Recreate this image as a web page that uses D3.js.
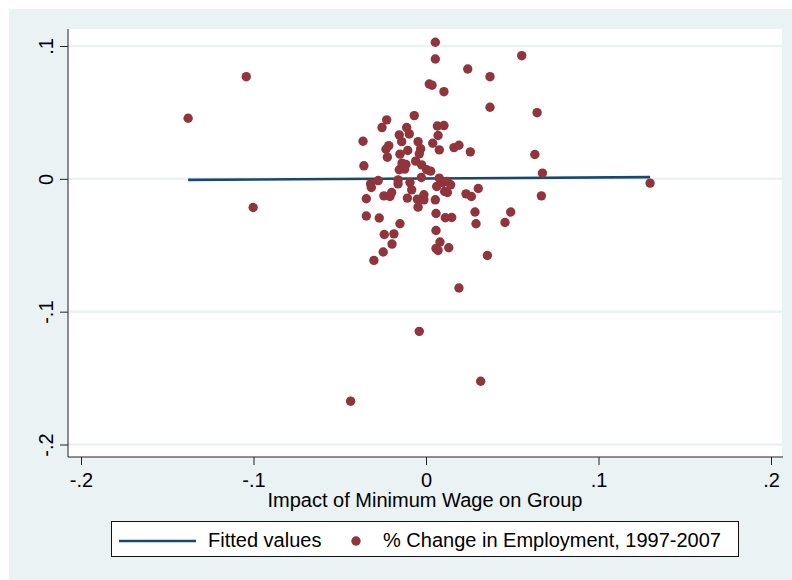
<!DOCTYPE html>
<html lang="en">
<head>
<meta charset="UTF-8">
<title>Minimum wage impact vs employment change</title>
<script src="https://d3js.org/d3.v7.min.js"></script>
<style>
  body { margin: 0; background: #fff; font-family: "Liberation Sans", Arial, sans-serif; }
  svg text { font-family: "Liberation Sans", Arial, sans-serif; fill: #000; }
</style>
</head>
<body>
<div id="chart"></div>
<script>
// tick values and labels
var xTicks = [-0.2, -0.1, 0, 0.1, 0.2];
var xTickLabels = ["-.2", "-.1", "0", ".1", ".2"];
var yTicks = [-0.2, -0.1, 0, 0.1];
var yTickLabels = ["-.2", "-.1", "0", ".1"];

// scatter: impact of minimum wage (x) and % change in employment (y)
var impact = [
  0.0054, 0.0054, 0.0555, 0.0242, 0.0371, 0.0019, 0.0035, 0.0104, 0.0371, 0.0644,
  -0.0068, -0.0228, -0.0255, -0.0112, 0.0066, 0.0104, -0.0155, -0.0097, 0.0070, -0.0365,
  -0.0141, -0.0046, -0.0216, -0.0232, -0.0031, 0.0039, 0.0077, 0.0162, 0.0191, 0.0257,
  -0.0106, -0.0151, -0.0039, -0.0224, 0.0631, -0.0360, -0.0139, -0.0116, -0.0060, -0.0025,
  -0.0155, -0.0124, 0.0004, 0.0027, -0.0027, 0.0675, -0.0277, -0.0162, -0.0162, -0.0093,
  -0.0321, -0.0317, 0.0077, 0.0097, 0.0124, 0.0143, 0.0062, 0.0108, 0.0124, 0.1299,
  -0.0083, 0.0303, -0.0199, -0.0244, -0.0209, -0.0346, -0.0108, -0.0050, -0.0012, -0.0012,
  0.0054, 0.0232, 0.0263, 0.0669, -0.0046, 0.0284, 0.0491, -0.0346, -0.0271, 0.0058,
  0.0112, 0.0149, -0.0151, 0.0290, 0.0458, 0.0058, -0.0242, -0.0186, -0.0197, 0.0081,
  0.0058, 0.0070, 0.0132, -0.0248, -0.0302, 0.0356, 0.0191, -0.1379, -0.1042, -0.1002,
  -0.0039, 0.0317, -0.0437
];
var empChange = [
  0.1028, 0.0902, 0.0927, 0.0827, 0.0769, 0.0714, 0.0705, 0.0656, 0.0539, 0.0498,
  0.0476, 0.0444, 0.0386, 0.0386, 0.0398, 0.0401, 0.0331, 0.0338, 0.0326, 0.0283,
  0.0280, 0.0280, 0.0250, 0.0223, 0.0226, 0.0268, 0.0218, 0.0235, 0.0253, 0.0203,
  0.0213, 0.0186, 0.0188, 0.0163, 0.0183, 0.0098, 0.0118, 0.0108, 0.0133, 0.0105,
  0.0068, 0.0073, 0.0068, 0.0058, 0.0010, 0.0043, -0.0013, -0.0008, -0.0038, -0.0028,
  -0.0038, -0.0065, 0.0005, -0.0028, -0.0020, -0.0045, -0.0058, -0.0095, -0.0103, -0.0032,
  -0.0083, -0.0073, -0.0103, -0.0128, -0.0133, -0.0150, -0.0145, -0.0153, -0.0120, -0.0158,
  -0.0158, -0.0113, -0.0133, -0.0128, -0.0213, -0.0250, -0.0250, -0.0280, -0.0295, -0.0261,
  -0.0293, -0.0291, -0.0338, -0.0338, -0.0329, -0.0389, -0.0419, -0.0414, -0.0491, -0.0476,
  -0.0524, -0.0539, -0.0519, -0.0551, -0.0614, -0.0577, -0.0822, 0.0456, 0.0769, -0.0216,
  -0.1148, -0.1524, -0.1674
];

// fitted values line (end points)
var fitX = [-0.1379, 0.1299];
var fitY = [-0.0008, 0.0013];

var legendLabels = ["Fitted values", "% Change in Employment, 1997-2007"];
var xTitle = "Impact of Minimum Wage on Group";

var W = 792, H = 580;
var bgColor = "#eaf2f3", lineColor = "#1a476f", dotColor = "#90353b";
var plotL = 68, plotR = 782, plotT = 29, plotB = 457;

var svg = d3.select("#chart").append("svg")
    .attr("width", W)
    .attr("height", H);

// outer background and plot region
svg.append("rect").attr("x", 9).attr("y", 9).attr("width", W - 9).attr("height", H - 9).attr("fill", bgColor);
svg.append("rect").attr("x", plotL).attr("y", plotT).attr("width", plotR - plotL).attr("height", plotB - plotT).attr("fill", "#fff");

var x = d3.scaleLinear().domain([-0.2, 0.2]).range([81, 771]);
var y = d3.scaleLinear().domain([-0.2, 0.1]).range([444.5, 46]);

// horizontal gridlines
svg.append("g").selectAll("line")
    .data(yTicks)
    .enter().append("line")
    .attr("x1", plotL).attr("x2", plotR)
    .attr("y1", d => y(d)).attr("y2", d => y(d))
    .attr("stroke", bgColor)
    .attr("stroke-width", 2.5);

// x axis
var xAxis = d3.axisBottom(x)
    .tickValues(xTicks)
    .tickSize(8)
    .tickPadding(6)
    .tickFormat((d, i) => xTickLabels[i]);
var gx = svg.append("g").attr("transform", "translate(0," + plotB + ")").call(xAxis);
gx.select(".domain").remove();
gx.selectAll(".tick line").attr("stroke", "#222");
gx.selectAll(".tick text").attr("font-size", 20).attr("dy", null).attr("y", 30);
svg.append("line").attr("x1", plotL).attr("x2", plotR + 1).attr("y1", plotB).attr("y2", plotB).attr("stroke", "#222");

// y axis (rotated labels)
var yAxis = d3.axisLeft(y)
    .tickValues(yTicks)
    .tickSize(8)
    .tickFormat((d, i) => yTickLabels[i]);
var gy = svg.append("g").attr("transform", "translate(" + plotL + ",0)").call(yAxis);
gy.select(".domain").remove();
gy.selectAll(".tick line").attr("stroke", "#222");
gy.selectAll(".tick text")
    .attr("font-size", 20)
    .attr("x", null).attr("dy", null)
    .attr("text-anchor", "middle")
    .attr("transform", "translate(-15.5,0) rotate(-90)");
svg.append("line").attr("x1", plotL).attr("x2", plotL).attr("y1", 29).attr("y2", plotB).attr("stroke", "#222");

// x axis title
svg.append("text")
    .attr("x", (plotL + plotR) / 2)
    .attr("y", 507)
    .attr("text-anchor", "middle")
    .attr("font-size", 20)
    .text(xTitle);

// fitted line
var fitData = fitX.map((d, i) => ({ x: d, y: fitY[i] }));
svg.append("path")
    .datum(fitData)
    .attr("d", d3.line().x(d => x(d.x)).y(d => y(d.y)))
    .attr("fill", "none")
    .attr("stroke", lineColor)
    .attr("stroke-width", 2.6);

// scatter points
var pts = impact.map((d, i) => ({ x: d, y: empChange[i] }));
svg.append("g").selectAll("circle")
    .data(pts)
    .enter().append("circle")
    .attr("cx", d => x(d.x))
    .attr("cy", d => y(d.y))
    .attr("r", 4.7)
    .attr("fill", dotColor);

// legend
var lg = svg.append("g");
lg.append("rect")
    .attr("x", 111.5).attr("y", 521.5)
    .attr("width", 627).attr("height", 35)
    .attr("fill", "#fff")
    .attr("stroke", "#111")
    .attr("stroke-width", 1);
lg.append("line")
    .attr("x1", 119).attr("x2", 196)
    .attr("y1", 541).attr("y2", 541)
    .attr("stroke", lineColor)
    .attr("stroke-width", 2.6);
lg.append("text").attr("x", 208).attr("y", 547).attr("font-size", 20).text(legendLabels[0]);
lg.append("circle").attr("cx", 356).attr("cy", 541).attr("r", 4.7).attr("fill", dotColor);
lg.append("text").attr("x", 383).attr("y", 547).attr("font-size", 20).text(legendLabels[1]);
</script>
</body>
</html>
